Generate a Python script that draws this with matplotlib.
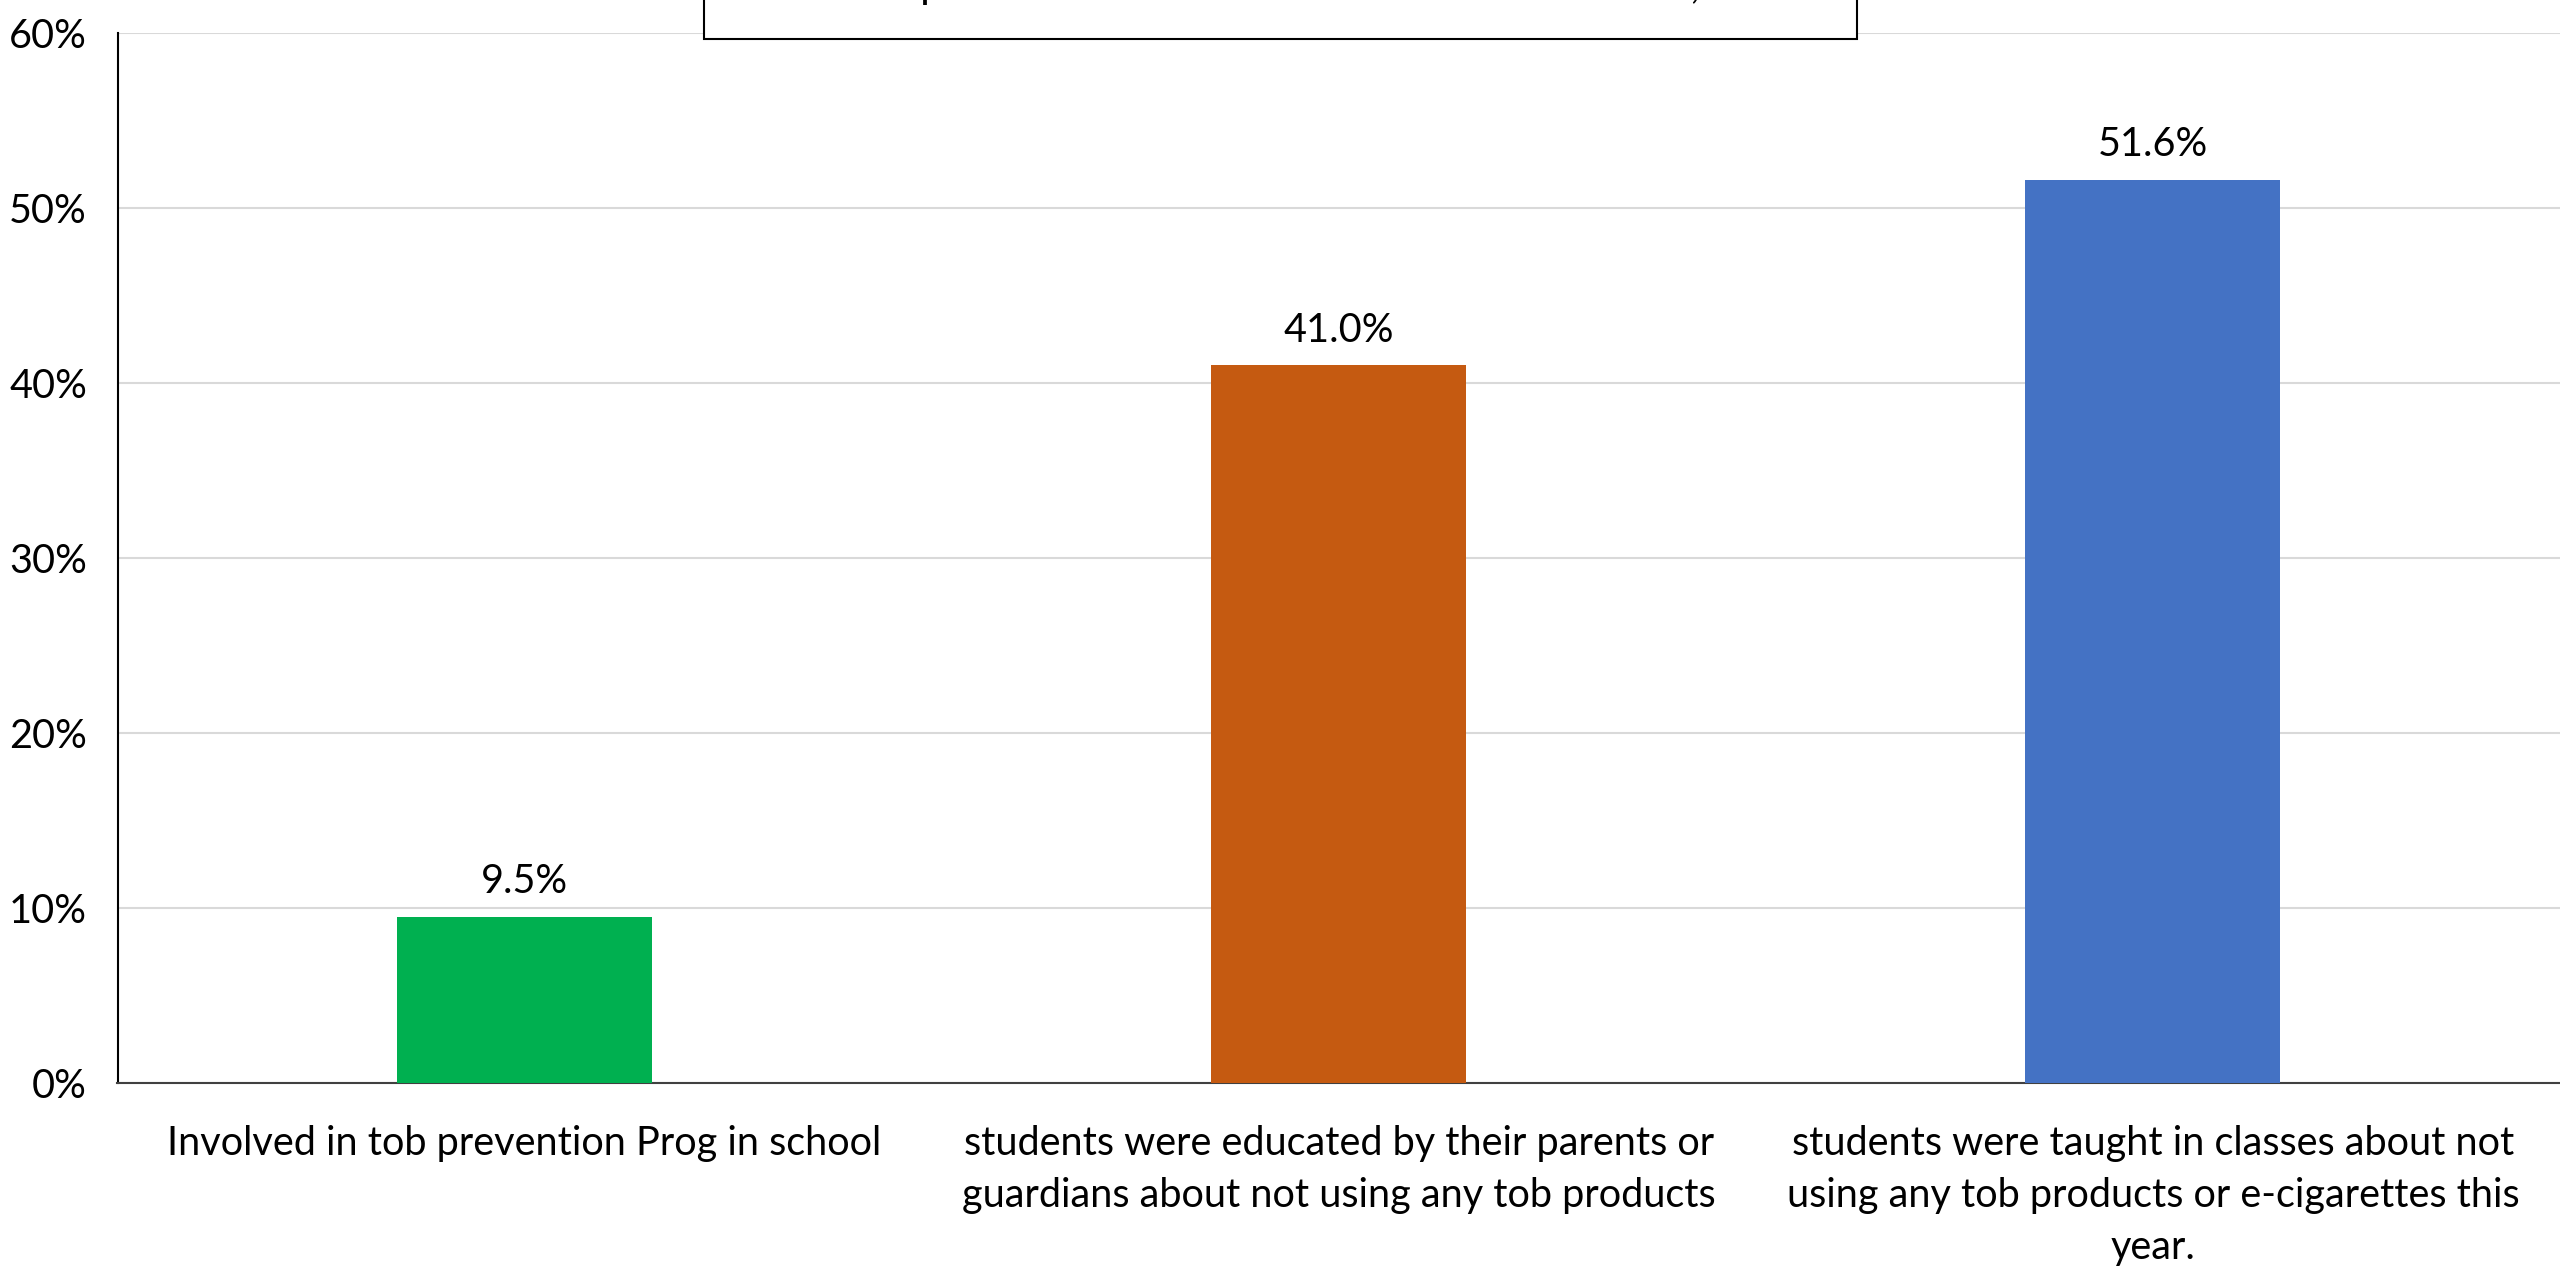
import matplotlib
matplotlib.use("Agg")
import matplotlib.pyplot as plt
from matplotlib.patches import Rectangle
from matplotlib.ticker import PercentFormatter

categories = [
    "Involved in tob prevention Prog in school",
    "students were educated by their parents or\nguardians about not using any tob products",
    "students were taught in classes about not\nusing any tob products or e-cigarettes this\nyear.",
]
values = [9.5, 41.0, 51.6]
colors = ["#00B050", "#C55A11", "#4472C4"]
yticks = [0, 10, 20, 30, 40, 50, 60]
title = "Tobacco prevention education at school and home, 2019"

plt.rcParams['font.family'] = ['Lato', 'DejaVu Sans']
FS = 28.5

fig = plt.figure(figsize=(25.6, 12.69), dpi=100)
ax = fig.add_axes([117.5 / 2560, 1 - 1083 / 1269, 1 - 117.5 / 2560, (1083 - 32.7) / 1269])

x = range(len(categories))
bars = ax.bar(x, values, width=0.313, color=colors, zorder=3)
for b, v in zip(bars, values):
    ax.annotate(f"{v:.1f}%", (b.get_x() + b.get_width() / 2, v),
                xytext=(0, 12), textcoords='offset points',
                ha='center', va='bottom', fontsize=FS)

ax.set_xlim(-0.5, 2.5)
ax.set_ylim(0, 60)
ax.set_yticks(yticks)
ax.yaxis.set_major_formatter(PercentFormatter(decimals=0))
ax.set_xticks(list(x))
ax.set_xticklabels(categories, fontsize=FS, linespacing=1.5)
ax.tick_params(axis='y', labelsize=FS, length=0, pad=22)
ax.tick_params(axis='x', length=0, pad=30)
ax.grid(axis='y', color='#D9D9D9', linewidth=1.5, zorder=0)
for s in ['top', 'right']:
    ax.spines[s].set_visible(False)
ax.spines['left'].set_color('black')
ax.spines['left'].set_linewidth(1.5)
ax.spines['bottom'].set_color('#404040')
ax.spines['bottom'].set_linewidth(1.5)

# title box, mostly cut off by the top of the canvas
fig.patches.append(Rectangle((704 / 2560, 1 - 39 / 1269), (1857 - 704) / 2560, 0.2,
                             transform=fig.transFigure, facecolor='white',
                             edgecolor='black', linewidth=1.5))
fig.text(1280 / 2560, 1 + 2 / 1269, title, ha='center', va='baseline',
         fontsize=FS + 2)

fig.savefig("out.png", dpi=100)
